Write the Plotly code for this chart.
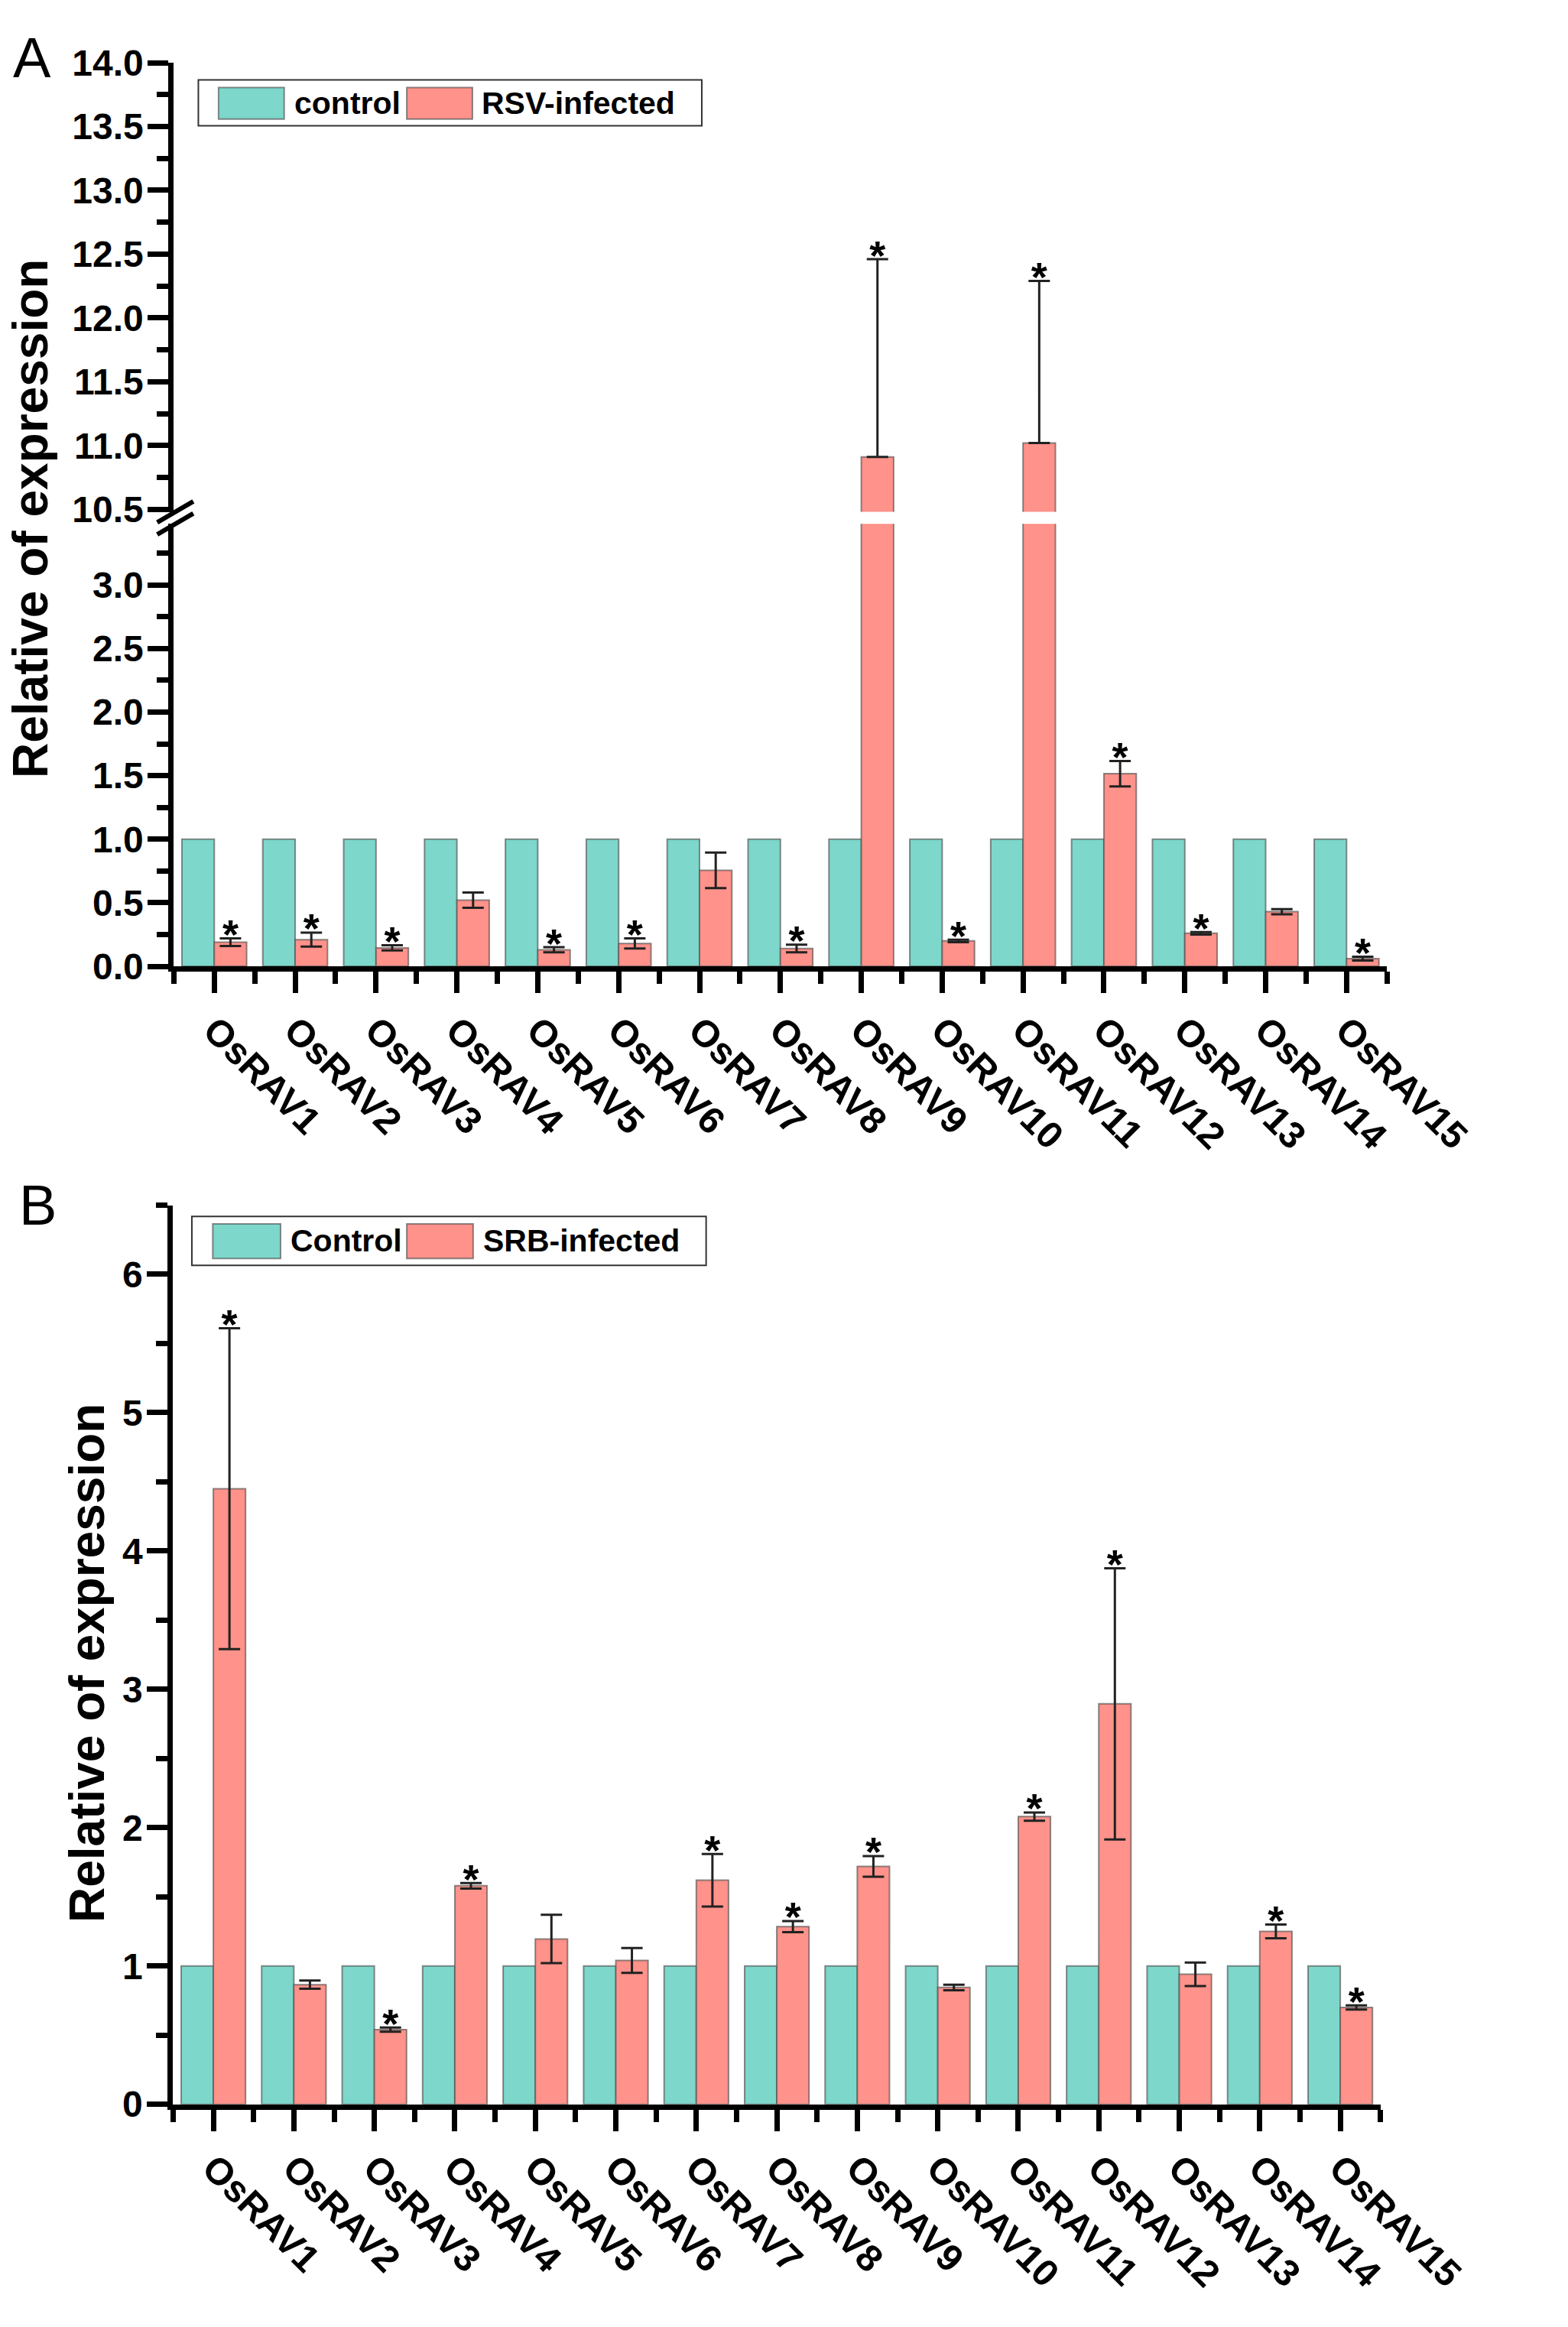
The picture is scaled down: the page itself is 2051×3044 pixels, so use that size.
import plotly.graph_objects as go

# ---------------- data ----------------
genes = ["OsRAV1", "OsRAV2", "OsRAV3", "OsRAV4", "OsRAV5", "OsRAV6", "OsRAV7", "OsRAV8",
         "OsRAV9", "OsRAV10", "OsRAV11", "OsRAV12", "OsRAV13", "OsRAV14", "OsRAV15"]
gene_pos = [1, 2, 3, 4, 5, 6, 7, 8, 9, 10, 11, 12, 13, 14, 15]

# Panel A: RSV
control_A = [1.0, 1.0, 1.0, 1.0, 1.0, 1.0, 1.0, 1.0, 1.0, 1.0, 1.0, 1.0, 1.0, 1.0, 1.0]
rsv = [0.19, 0.21, 0.145, 0.52, 0.13, 0.18, 0.755, 0.14, 10.91, 0.20, 11.02, 1.515, 0.26, 0.43, 0.06]
rsv_err_plus = [0.03, 0.055, 0.02, 0.06, 0.02, 0.04, 0.14, 0.03, 1.55, 0.01, 1.27, 0.10, 0.01, 0.02, 0.015]
rsv_err_minus = [0.03, 0.055, 0.02, 0.06, 0.02, 0.04, 0.14, 0.03, 0.0, 0.01, 0.0, 0.10, 0.01, 0.02, 0.015]
rsv_sig = [1, 1, 1, 0, 1, 1, 0, 1, 1, 1, 1, 1, 1, 0, 1]

# Panel B: SRB
control_B = [1.0, 1.0, 1.0, 1.0, 1.0, 1.0, 1.0, 1.0, 1.0, 1.0, 1.0, 1.0, 1.0, 1.0, 1.0]
srb = [4.45, 0.865, 0.54, 1.58, 1.195, 1.04, 1.62, 1.285, 1.72, 0.845, 2.08, 2.895, 0.94, 1.25, 0.70]
srb_err = [1.16, 0.03, 0.015, 0.02, 0.175, 0.09, 0.19, 0.04, 0.075, 0.02, 0.03, 0.98, 0.085, 0.05, 0.015]
srb_sig = [1, 0, 1, 1, 0, 0, 1, 1, 1, 0, 1, 1, 0, 1, 1]

# ---------------- styling ----------------
W, H = 2051, 3044
TEAL = "#7DD7CB"
SALMON = "#FF928A"
EDGE = "rgba(80,80,80,0.65)"
FONT = "Liberation Sans, Arial, sans-serif"
BARGAP = 0.2
# centre of the second (infected) bar inside a group, in axis units
STAR_DX = (1 - BARGAP) / 4

A_upper = (10.48, 14.0)
A_lower = (0.0, 3.48)


def px(x):
    return x / W


def py(y):
    return 1 - y / H


fig = go.Figure()

bar_line = dict(color=EDGE, width=2)
err_style = dict(color="#222222", thickness=3, width=14)

# Panel A, both segments of the broken axis
for yax in ["y", "y2"]:
    fig.add_trace(go.Bar(x=gene_pos, y=control_A, name="control", xaxis="x", yaxis=yax,
                         marker=dict(color=TEAL, line=bar_line), showlegend=False))
    fig.add_trace(go.Bar(x=gene_pos, y=rsv, name="RSV-infected", xaxis="x", yaxis=yax,
                         marker=dict(color=SALMON, line=bar_line), showlegend=False,
                         error_y=dict(type="data", symmetric=False, array=rsv_err_plus,
                                      arrayminus=rsv_err_minus, **err_style)))

# stars A
sx_up, sy_up, sx_lo, sy_lo = [], [], [], []
for p, v, e, s in zip(gene_pos, rsv, rsv_err_plus, rsv_sig):
    if s:
        top = v + e
        if top > A_lower[1]:
            sx_up.append(p + STAR_DX); sy_up.append(top)
        else:
            sx_lo.append(p + STAR_DX); sy_lo.append(top)
star_font = dict(family=FONT, size=54, color="black", weight="bold")
fig.add_trace(go.Scatter(x=sx_up, y=sy_up, mode="text", text=["*"] * len(sx_up),
                         textposition="middle center", textfont=star_font, xaxis="x", yaxis="y",
                         showlegend=False, hoverinfo="skip", cliponaxis=False))
fig.add_trace(go.Scatter(x=sx_lo, y=sy_lo, mode="text", text=["*"] * len(sx_lo),
                         textposition="middle center", textfont=star_font, xaxis="x", yaxis="y2",
                         showlegend=False, hoverinfo="skip", cliponaxis=False))

# Panel B
fig.add_trace(go.Bar(x=gene_pos, y=control_B, name="Control", xaxis="x2", yaxis="y3",
                     marker=dict(color=TEAL, line=bar_line), showlegend=False))
fig.add_trace(go.Bar(x=gene_pos, y=srb, name="SRB-infected", xaxis="x2", yaxis="y3",
                     marker=dict(color=SALMON, line=bar_line), showlegend=False,
                     error_y=dict(type="data", array=srb_err, **err_style)))
bx = [p + STAR_DX for p, s in zip(gene_pos, srb_sig) if s]
by = [v + e for v, e, s in zip(srb, srb_err, srb_sig) if s]
fig.add_trace(go.Scatter(x=bx, y=by, mode="text", text=["*"] * len(bx),
                         textposition="middle center", textfont=star_font, xaxis="x2",
                         yaxis="y3", showlegend=False, hoverinfo="skip", cliponaxis=False))

tick_font = dict(family=FONT, size=48, color="black", weight="bold")
xlab_font = dict(family=FONT, size=49, color="black", weight="bold")


def xaxis_cfg(domain, anchor):
    return dict(domain=domain, anchor=anchor, range=[0.5, 15.5], tickmode="array",
                tickvals=gene_pos, ticktext=genes, tickangle=45, ticks="outside",
                ticklen=28, tickwidth=7, tickcolor="black", showline=True, linewidth=7,
                linecolor="black", showgrid=False, zeroline=False, tickfont=xlab_font,
                minor=dict(tickmode="linear", tick0=0.5, dtick=1, ticks="outside",
                           ticklen=16, tickwidth=7, tickcolor="black", showgrid=False))


def yaxis_cfg(domain, rng, dtick, minor_dtick, fmt, anchor):
    return dict(domain=domain, anchor=anchor, range=list(rng),
                tickmode="linear", tick0=0, dtick=dtick, tickformat=fmt, ticks="outside",
                ticklen=27, tickwidth=7, tickcolor="black", showline=True, linewidth=7,
                linecolor="black", showgrid=False, zeroline=False, tickfont=tick_font,
                ticklabelstandoff=-4,
                minor=dict(tickmode="linear", tick0=0, dtick=minor_dtick, ticks="outside",
                           ticklen=15, tickwidth=7, tickcolor="black", showgrid=False))


shapes = []
annotations = []

# broken-axis marks (decoration)
for yb in [655, 671]:
    shapes.append(dict(type="line", xref="paper", yref="paper",
                       x0=px(218), y0=py(yb + 14), x1=px(268), y1=py(yb - 14),
                       line=dict(color="black", width=6)))


def legend_box(x0, x1, y0, y1, items):
    shapes.append(dict(type="rect", xref="paper", yref="paper", x0=px(x0), x1=px(x1),
                       y0=py(y1), y1=py(y0), line=dict(color="#333333", width=2),
                       fillcolor="white"))
    for (sx0, sx1, tx, label, color) in items:
        shapes.append(dict(type="rect", xref="paper", yref="paper", x0=px(sx0), x1=px(sx1),
                           y0=py(y1 - 9), y1=py(y0 + 10), line=dict(color=EDGE, width=2),
                           fillcolor=color))
        annotations.append(dict(text=label, xref="paper", yref="paper", x=px(tx),
                                y=py((y0 + y1) / 2), xanchor="left", yanchor="middle",
                                showarrow=False,
                                font=dict(family=FONT, size=41, color="black", weight="bold")))


legend_box(275, 973, 80, 141, [(303, 394, 406, "control", TEAL),
                               (564, 655, 666, "RSV-infected", SALMON)])
legend_box(266, 979, 1593, 1658, [(295, 389, 401, "Control", TEAL),
                                  (564, 656, 668, "SRB-infected", SALMON)])

title_font = dict(family=FONT, size=64, color="black", weight="bold")
annotations.append(dict(text="Relative of expression", xref="paper", yref="paper",
                        x=px(43), y=py(664), textangle=-90, showarrow=False,
                        xanchor="center", yanchor="middle", font=title_font))
annotations.append(dict(text="Relative of expression", xref="paper", yref="paper",
                        x=px(121), y=py(2188), textangle=-90, showarrow=False,
                        xanchor="center", yanchor="middle", font=title_font))
panel_font = dict(family=FONT, size=74, color="black")
annotations.append(dict(text="A", xref="paper", yref="paper", x=px(45), y=py(50),
                        showarrow=False, xanchor="center", yanchor="middle", font=panel_font))
annotations.append(dict(text="B", xref="paper", yref="paper", x=px(52), y=py(1578),
                        showarrow=False, xanchor="center", yanchor="middle", font=panel_font))

fig.update_layout(
    width=W, height=H, autosize=False,
    margin=dict(l=0, r=0, t=0, b=0),
    paper_bgcolor="white", plot_bgcolor="white",
    barmode="group", bargap=BARGAP, bargroupgap=0.0,
    showlegend=False,
    font=dict(family=FONT, color="black"),
    xaxis=xaxis_cfg([px(241), px(1923)], "y2"),
    xaxis2=xaxis_cfg([px(240), px(1914)], "y3"),
    yaxis=yaxis_cfg([py(655), py(57)], A_upper, 0.5, 0.25, ".1f", "x"),
    yaxis2=yaxis_cfg([py(1260), py(671)], A_lower, 0.5, 0.25, ".1f", "x"),
    yaxis3=yaxis_cfg([py(2775), py(1578)], (0, 6.5), 1, 0.5, "d", "x2"),
    shapes=shapes,
    annotations=annotations,
)

fig.write_html("out.html", config={"displayModeBar": False},
               post_script="document.body.style.margin='0px';")
